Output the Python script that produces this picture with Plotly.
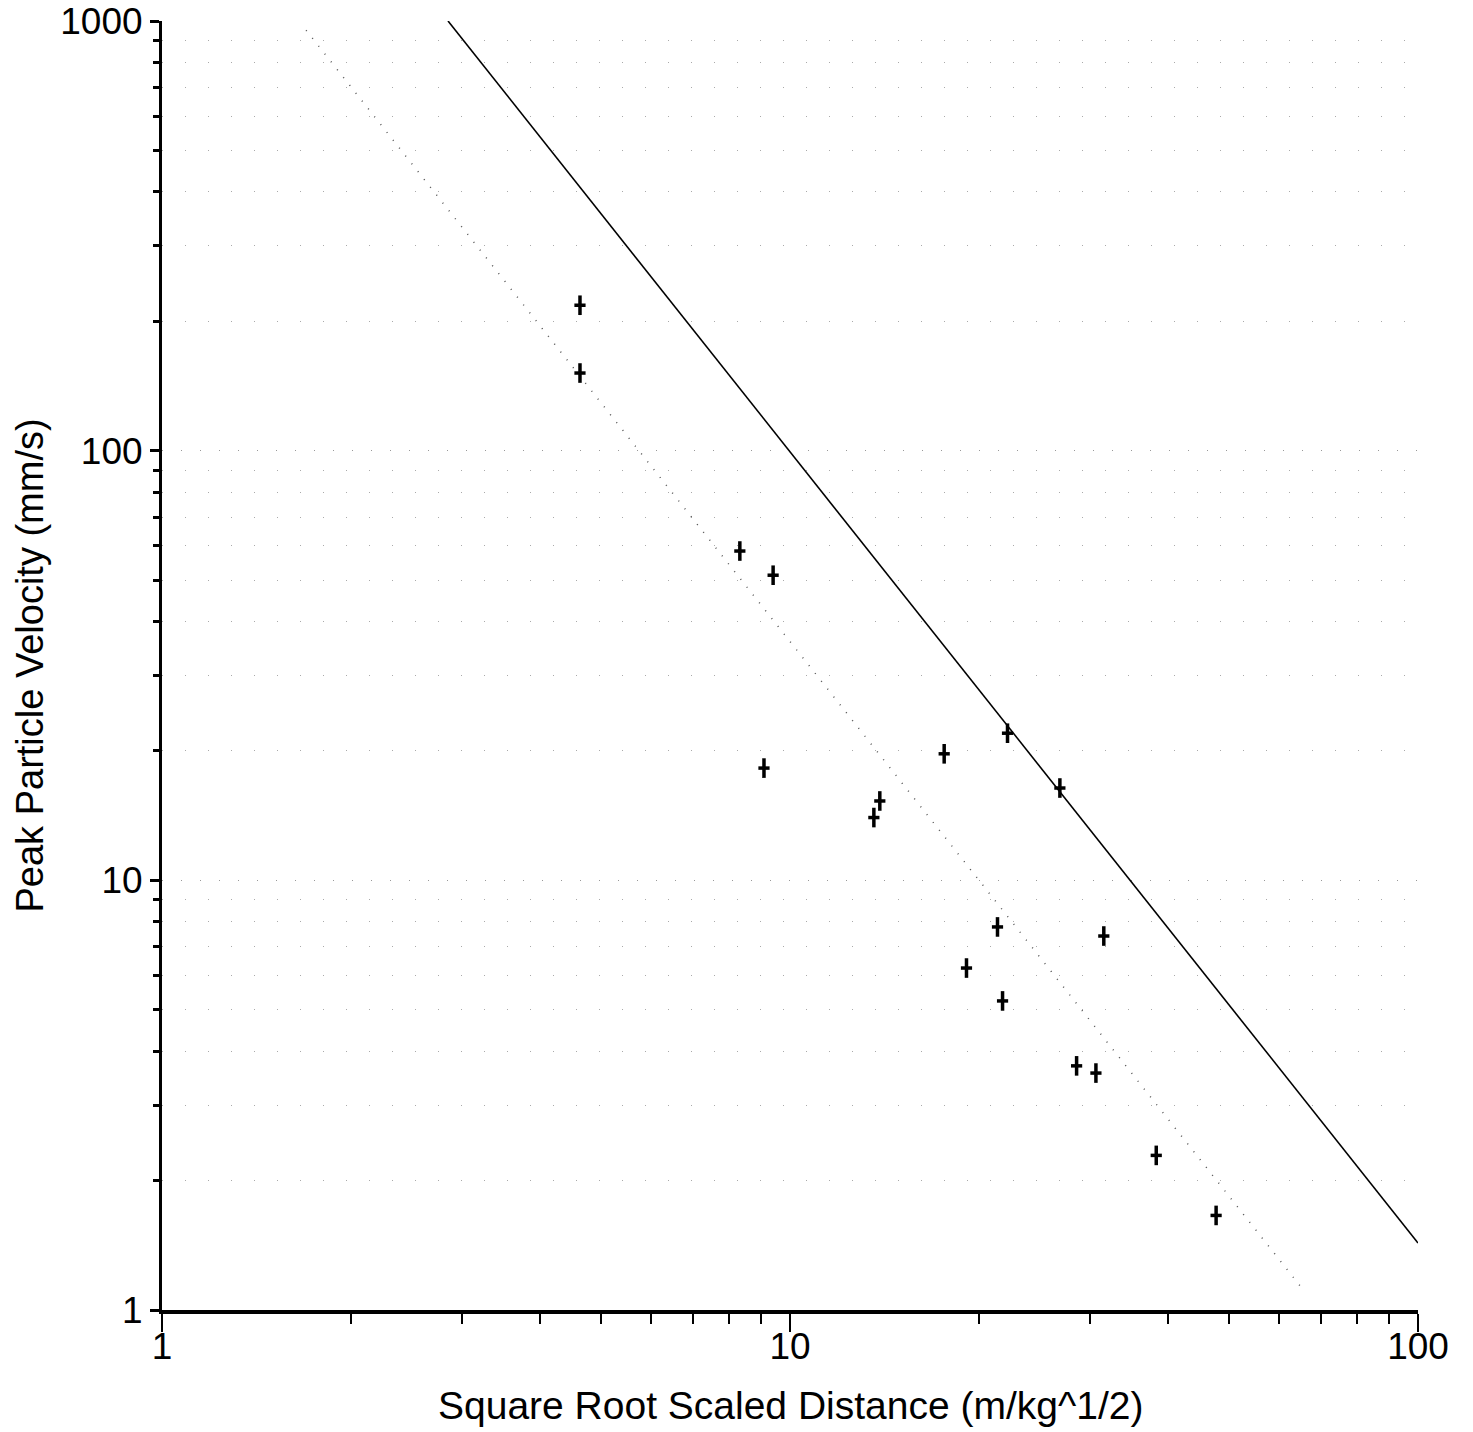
import plotly.graph_objects as go

# Measured data (scaled distance, PPV)
scaled_distance = [4.63, 4.63, 8.32, 9.40, 9.09, 13.6, 13.9, 17.6, 22.2, 26.9,
                   19.1, 21.4, 21.8, 31.6, 28.6, 30.7, 38.3, 47.7]
ppv = [218, 151.6, 58.4, 51.3, 18.25, 14.0, 15.3, 19.7, 22.0, 16.4,
       6.25, 7.79, 5.24, 7.42, 3.70, 3.56, 2.29, 1.66]

# Upper bound (solid) and mean (dotted) regression lines - endpoints
upper_x = [2.854, 100]
upper_y = [1000, 1.432]
mean_x = [1.696, 66.1]
mean_y = [952, 1.10]

x_tickvals = [1, 10, 100]
x_ticktext = ["1", "10", "100"]
y_tickvals = [1, 10, 100, 1000]
y_ticktext = ["1", "10", "100", "1000"]
x_minor = [m * d for d in (1, 10) for m in range(2, 10)]
y_minor = [m * d for d in (1, 10, 100) for m in range(2, 10)]

FONT = "Liberation Sans, Arial, sans-serif"

fig = go.Figure()
fig.add_trace(go.Scatter(x=mean_x, y=mean_y, mode="lines",
                         line=dict(color="#555555", width=1.5, dash="1px,9px"),
                         showlegend=False))
fig.add_trace(go.Scatter(x=upper_x, y=upper_y, mode="lines",
                         line=dict(color="black", width=1.6),
                         showlegend=False))
fig.add_trace(go.Scatter(x=scaled_distance, y=ppv, mode="markers",
                         marker=dict(symbol="line-ns", size=14,
                                     line=dict(color="black", width=3.5)),
                         showlegend=False))
fig.add_trace(go.Scatter(x=scaled_distance, y=ppv, mode="markers",
                         marker=dict(symbol="line-ew", size=8,
                                     line=dict(color="black", width=3.5)),
                         showlegend=False))

fig.update_layout(
    width=1473, height=1432,
    margin=dict(l=162, r=55, t=21, b=122),
    paper_bgcolor="white", plot_bgcolor="white",
    font=dict(family=FONT, color="black", size=37),
    xaxis=dict(
        type="log", range=[0, 2], automargin=False,
        tickvals=x_tickvals, ticktext=x_ticktext,
        ticks="outside", ticklen=18, tickwidth=2, tickcolor="black",
        ticklabelstandoff=-17, ticklabeloverflow="allow",
        showline=True, linecolor="black", linewidth=4,
        showgrid=False, zeroline=False,
        tickfont=dict(size=37, family=FONT),
        minor=dict(tickvals=x_minor, ticks="outside", ticklen=10,
                   tickwidth=2, tickcolor="black", showgrid=False),
    ),
    yaxis=dict(
        type="log", range=[0, 3], automargin=False,
        tickvals=y_tickvals, ticktext=y_ticktext,
        ticks="outside", ticklen=9, tickwidth=3, tickcolor="black",
        ticklabeloverflow="allow",
        showline=True, linecolor="black", linewidth=3,
        showgrid=True, gridcolor="#999999", gridwidth=1, griddash="1px,18px",
        zeroline=False,
        tickfont=dict(size=37, family=FONT),
        minor=dict(tickvals=y_minor, ticks="outside", ticklen=6,
                   tickwidth=3, tickcolor="black", showgrid=True,
                   gridcolor="#aaaaaa", gridwidth=1, griddash="1px,22px"),
    ),
    annotations=[
        dict(text="Square Root Scaled Distance (m/kg^1/2)", xref="paper",
             yref="paper", x=0.5, y=0, xanchor="center", yanchor="top",
             yshift=-72, showarrow=False, font=dict(size=39, family=FONT)),
        dict(text="Peak Particle Velocity (mm/s)", xref="paper",
             yref="paper", x=0, y=0.5, xanchor="center", yanchor="middle",
             xshift=-133, textangle=-90, showarrow=False,
             font=dict(size=38, family=FONT)),
    ],
)

fig.write_html("out.html",
               config={"displayModeBar": False},
               post_script="document.body.style.margin='0';"
                           "document.body.style.overflow='hidden';")
